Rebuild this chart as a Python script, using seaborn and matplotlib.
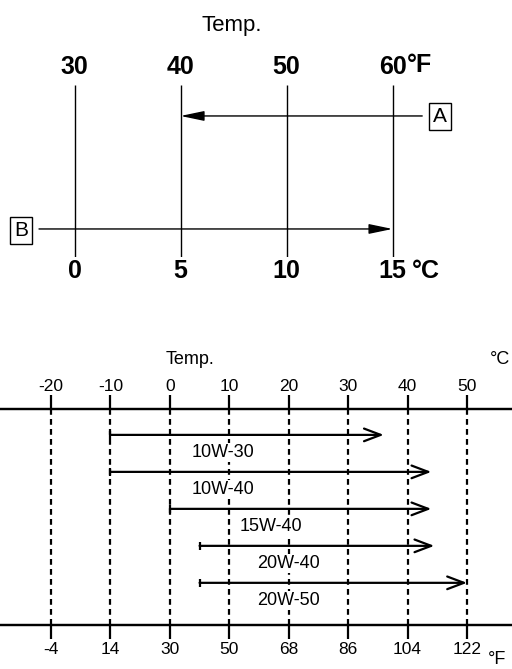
import matplotlib
matplotlib.use("Agg")
import matplotlib.pyplot as plt
import seaborn as sns
import pandas as pd

# top diagram: schematic scale, both labels sit on the same lines
top_f = ["30", "40", "50", "60"]
top_c = ["0", "5", "10", "15"]

# bottom chart: oil grades and their temperature range in deg C
grades = ["10W-30", "10W-40", "15W-40", "20W-40", "20W-50"]
low_c = [-10, -10, 0, 5, 5]
high_c = [36, 44, 44, 44.5, 50]
label_x = [9, 9, 17, 20, 20]

scale_c = [-20, -10, 0, 10, 20, 30, 40, 50]
scale_f = ["-4", "14", "30", "50", "68", "86", "104", "122"]

sns.set_theme(style="white", rc={"text.color": "black", "xtick.color": "black",
                                 "axes.labelcolor": "black"})
plt.rcParams['font.family'] = ['Liberation Sans', 'DejaVu Sans']

W, H = 512, 669
fig = plt.figure(figsize=(W / 100, H / 100), dpi=100)

# ---------- top diagram ----------
ax1 = fig.add_axes([0, 1 - 257 / H, 1, (257 - 85) / H])
ax1.set_xlim(-0.703, 4.127)
ax1.set_ylim(0, 1)
pos = list(range(len(top_f)))
ax1.vlines(pos, 0, 1, color="black", lw=1.0)
sns.despine(ax=ax1, left=True, right=True, top=True, bottom=True)
ax1.set_yticks([])
ax1.set_xticks(pos)
ax1.set_xticklabels(top_c, fontsize=18, fontweight="bold")
ax1.tick_params(axis="x", length=0, pad=1.5)
t1 = ax1.twiny()
t1.set_xlim(ax1.get_xlim())
t1.set_xticks(pos)
t1.set_xticklabels(top_f, fontsize=18, fontweight="bold")
t1.tick_params(axis="x", length=0, pad=4)
sns.despine(ax=t1, left=True, right=True, top=True, bottom=True)

ax1.annotate("°F", xy=(pos[-1], 1), xytext=(10, 6), textcoords="offset points",
             fontsize=18, fontweight="bold", ha="left", va="bottom",
             annotation_clip=False)
ax1.annotate("°C", xy=(pos[-1], 0), xytext=(14, -1.5), textcoords="offset points",
             fontsize=18, fontweight="bold", ha="left", va="top",
             annotation_clip=False)

# A: from the 60F side back to 40F ; B: up to 15C
ax1.annotate("", xy=(1, 0.82), xytext=(3.28, 0.82),
             arrowprops=dict(arrowstyle="-|>,head_length=1.2,head_width=0.25",
                             color="black", lw=1.0, shrinkA=0, shrinkB=0))
ax1.annotate("", xy=(3, 0.163), xytext=(-0.335, 0.163),
             arrowprops=dict(arrowstyle="-|>,head_length=1.2,head_width=0.25",
                             color="black", lw=1.0, shrinkA=0, shrinkB=0))
box = dict(boxstyle="square,pad=0.2", fc="white", ec="black", lw=1.0)
ax1.text(3.45, 0.815, "A", fontsize=15, ha="center", va="center", bbox=box)
ax1.text(-0.505, 0.155, "B", fontsize=15, ha="center", va="center", bbox=box)

fig.text(232 / W, 1 - 25 / H, "Temp.", fontsize=16, ha="center", va="center")

# ---------- bottom chart ----------
ax2 = fig.add_axes([0, 1 - 625 / H, 1, (625 - 409) / H])
ax2.set_xlim(-28.58, 57.57)
ax2.set_ylim(5.14, -0.70)
sns.despine(ax=ax2, left=True, right=True, top=False, bottom=False)
for s in ("top", "bottom"):
    ax2.spines[s].set_linewidth(1.6)
    ax2.spines[s].set_color("black")
ax2.set_yticks([])

ax2.vlines(scale_c, -0.70, 5.14, color="black", lw=1.6,
           linestyles=(0, (2.6, 1.9)))

ax2.set_xticks(scale_c)
ax2.set_xticklabels(scale_f, fontsize=12.5)
ax2.tick_params(axis="x", direction="out", length=10, width=1.6,
                color="black", pad=2.5, bottom=True)
t2 = ax2.twiny()
t2.set_xlim(ax2.get_xlim())
t2.set_xticks(scale_c)
t2.set_xticklabels([str(c) for c in scale_c], fontsize=12.5)
t2.tick_params(axis="x", direction="out", length=10, width=1.6,
               color="black", pad=0.5, top=True)
sns.despine(ax=t2, left=True, right=True, top=False, bottom=False)
for s in ("top", "bottom"):
    t2.spines[s].set_linewidth(1.6)
    t2.spines[s].set_color("black")

df = pd.DataFrame({"grade": grades, "low": low_c, "high": high_c,
                   "row": range(len(grades))})
# small start bars
sns.scatterplot(data=df, x="low", y="row", marker="|", s=30, color="black",
                linewidth=1.6, ax=ax2, legend=False, zorder=3)
ax2.set_xlabel("")
ax2.set_ylabel("")
for i, g in enumerate(grades):
    ax2.annotate("", xy=(high_c[i], i), xytext=(low_c[i], i),
                 arrowprops=dict(arrowstyle="->,head_length=1.0,head_width=0.38",
                                 color="black", lw=1.6, shrinkA=0, shrinkB=0))
    ax2.text(label_x[i], i + 0.47, g, fontsize=13, ha="center", va="center",
             bbox=dict(boxstyle="square,pad=0.05", fc="white", ec="none"))

fig.text(190 / W, 1 - 359 / H, "Temp.", fontsize=13, ha="center", va="center")
fig.text(500 / W, 1 - 359 / H, "°C", fontsize=13, ha="center", va="center")
fig.text(497 / W, 1 - 668 / H, "°F", fontsize=13, ha="center", va="bottom")

fig.savefig("out.png", dpi=100, facecolor="white")
